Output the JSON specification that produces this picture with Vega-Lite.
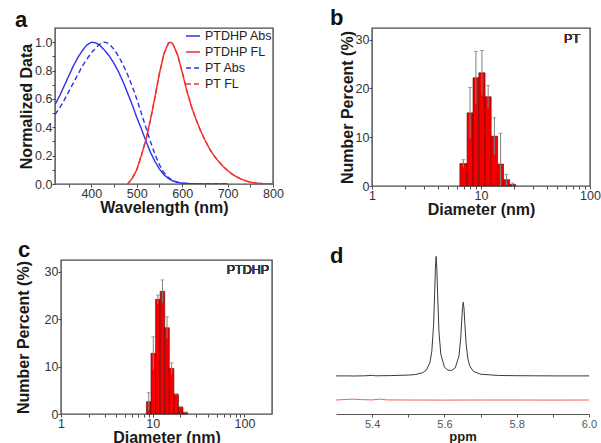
{
  "$schema": "https://vega.github.io/schema/vega-lite/v6.json",
  "background": "white",
  "padding": {"left": 7, "top": 6, "right": 5, "bottom": 5},
  "spacing": 19,
  "resolve": {"scale": {"color": "independent", "strokeDash": "independent"}, "legend": {"color": "independent", "strokeDash": "independent"}},
  "vconcat": [
    {
      "spacing": 44,
      "resolve": {"scale": {"color": "independent", "strokeDash": "independent"}, "legend": {"color": "independent", "strokeDash": "independent"}},
      "hconcat": [
        {
          "spacing": 0,
          "resolve": {"scale": {"color": "independent", "strokeDash": "independent"}, "legend": {"color": "independent", "strokeDash": "independent"}},
          "hconcat": [
            {"width": 1, "height": 1, "view": {"stroke": null}, "data": {"values": [{}]}, "mark": {"type": "point", "opacity": 0}, "encoding": {}},
            {
              "width": 218,
              "height": 156,
              "title": {"text": "a", "dx": -40, "offset": -4},
              "data": {"values": [
                {"s": "PTDHP Abs", "w": 320, "v": 0.56}, {"s": "PTDHP Abs", "w": 330, "v": 0.62}, {"s": "PTDHP Abs", "w": 340, "v": 0.69}, {"s": "PTDHP Abs", "w": 350, "v": 0.76}, {"s": "PTDHP Abs", "w": 360, "v": 0.83}, {"s": "PTDHP Abs", "w": 370, "v": 0.89}, {"s": "PTDHP Abs", "w": 380, "v": 0.94}, {"s": "PTDHP Abs", "w": 390, "v": 0.98}, {"s": "PTDHP Abs", "w": 400, "v": 1.0}, {"s": "PTDHP Abs", "w": 410, "v": 0.995}, {"s": "PTDHP Abs", "w": 420, "v": 0.975}, {"s": "PTDHP Abs", "w": 430, "v": 0.94}, {"s": "PTDHP Abs", "w": 440, "v": 0.9}, {"s": "PTDHP Abs", "w": 450, "v": 0.85}, {"s": "PTDHP Abs", "w": 460, "v": 0.79}, {"s": "PTDHP Abs", "w": 470, "v": 0.72}, {"s": "PTDHP Abs", "w": 480, "v": 0.64}, {"s": "PTDHP Abs", "w": 490, "v": 0.56}, {"s": "PTDHP Abs", "w": 500, "v": 0.47}, {"s": "PTDHP Abs", "w": 510, "v": 0.39}, {"s": "PTDHP Abs", "w": 520, "v": 0.305}, {"s": "PTDHP Abs", "w": 530, "v": 0.225}, {"s": "PTDHP Abs", "w": 540, "v": 0.16}, {"s": "PTDHP Abs", "w": 550, "v": 0.105}, {"s": "PTDHP Abs", "w": 560, "v": 0.065}, {"s": "PTDHP Abs", "w": 570, "v": 0.038}, {"s": "PTDHP Abs", "w": 580, "v": 0.021}, {"s": "PTDHP Abs", "w": 590, "v": 0.011}, {"s": "PTDHP Abs", "w": 600, "v": 0.006}, {"s": "PTDHP Abs", "w": 620, "v": 0.002}, {"s": "PTDHP Abs", "w": 650, "v": 0.0}, {"s": "PTDHP Abs", "w": 700, "v": 0.0},
                {"s": "PTDHP FL", "w": 480, "v": 0.0}, {"s": "PTDHP FL", "w": 490, "v": 0.04}, {"s": "PTDHP FL", "w": 500, "v": 0.1}, {"s": "PTDHP FL", "w": 510, "v": 0.2}, {"s": "PTDHP FL", "w": 520, "v": 0.31}, {"s": "PTDHP FL", "w": 530, "v": 0.45}, {"s": "PTDHP FL", "w": 540, "v": 0.61}, {"s": "PTDHP FL", "w": 550, "v": 0.78}, {"s": "PTDHP FL", "w": 560, "v": 0.92}, {"s": "PTDHP FL", "w": 570, "v": 0.995}, {"s": "PTDHP FL", "w": 575, "v": 1.0}, {"s": "PTDHP FL", "w": 580, "v": 0.985}, {"s": "PTDHP FL", "w": 590, "v": 0.91}, {"s": "PTDHP FL", "w": 600, "v": 0.79}, {"s": "PTDHP FL", "w": 610, "v": 0.66}, {"s": "PTDHP FL", "w": 620, "v": 0.55}, {"s": "PTDHP FL", "w": 630, "v": 0.46}, {"s": "PTDHP FL", "w": 640, "v": 0.38}, {"s": "PTDHP FL", "w": 650, "v": 0.31}, {"s": "PTDHP FL", "w": 660, "v": 0.25}, {"s": "PTDHP FL", "w": 670, "v": 0.2}, {"s": "PTDHP FL", "w": 680, "v": 0.16}, {"s": "PTDHP FL", "w": 690, "v": 0.125}, {"s": "PTDHP FL", "w": 700, "v": 0.095}, {"s": "PTDHP FL", "w": 710, "v": 0.07}, {"s": "PTDHP FL", "w": 720, "v": 0.05}, {"s": "PTDHP FL", "w": 730, "v": 0.035}, {"s": "PTDHP FL", "w": 740, "v": 0.022}, {"s": "PTDHP FL", "w": 750, "v": 0.013}, {"s": "PTDHP FL", "w": 760, "v": 0.007}, {"s": "PTDHP FL", "w": 780, "v": 0.002}, {"s": "PTDHP FL", "w": 800, "v": 0.0},
                {"s": "PT Abs", "w": 320, "v": 0.49}, {"s": "PT Abs", "w": 330, "v": 0.535}, {"s": "PT Abs", "w": 340, "v": 0.59}, {"s": "PT Abs", "w": 350, "v": 0.65}, {"s": "PT Abs", "w": 360, "v": 0.71}, {"s": "PT Abs", "w": 370, "v": 0.77}, {"s": "PT Abs", "w": 380, "v": 0.83}, {"s": "PT Abs", "w": 390, "v": 0.88}, {"s": "PT Abs", "w": 400, "v": 0.925}, {"s": "PT Abs", "w": 410, "v": 0.96}, {"s": "PT Abs", "w": 420, "v": 0.99}, {"s": "PT Abs", "w": 428, "v": 1.0}, {"s": "PT Abs", "w": 435, "v": 0.995}, {"s": "PT Abs", "w": 440, "v": 0.985}, {"s": "PT Abs", "w": 450, "v": 0.95}, {"s": "PT Abs", "w": 460, "v": 0.9}, {"s": "PT Abs", "w": 470, "v": 0.84}, {"s": "PT Abs", "w": 480, "v": 0.77}, {"s": "PT Abs", "w": 490, "v": 0.69}, {"s": "PT Abs", "w": 500, "v": 0.6}, {"s": "PT Abs", "w": 510, "v": 0.5}, {"s": "PT Abs", "w": 520, "v": 0.4}, {"s": "PT Abs", "w": 530, "v": 0.3}, {"s": "PT Abs", "w": 540, "v": 0.21}, {"s": "PT Abs", "w": 550, "v": 0.135}, {"s": "PT Abs", "w": 560, "v": 0.08}, {"s": "PT Abs", "w": 570, "v": 0.045}, {"s": "PT Abs", "w": 580, "v": 0.024}, {"s": "PT Abs", "w": 590, "v": 0.012}, {"s": "PT Abs", "w": 600, "v": 0.006}, {"s": "PT Abs", "w": 620, "v": 0.002}, {"s": "PT Abs", "w": 650, "v": 0.0}, {"s": "PT Abs", "w": 700, "v": 0.0},
                {"s": "PT FL", "w": 480, "v": 0.0}, {"s": "PT FL", "w": 490, "v": 0.04}, {"s": "PT FL", "w": 500, "v": 0.1}, {"s": "PT FL", "w": 510, "v": 0.2}, {"s": "PT FL", "w": 520, "v": 0.31}, {"s": "PT FL", "w": 530, "v": 0.45}, {"s": "PT FL", "w": 540, "v": 0.61}, {"s": "PT FL", "w": 550, "v": 0.78}, {"s": "PT FL", "w": 560, "v": 0.92}, {"s": "PT FL", "w": 570, "v": 0.995}, {"s": "PT FL", "w": 575, "v": 1.0}, {"s": "PT FL", "w": 580, "v": 0.985}, {"s": "PT FL", "w": 590, "v": 0.91}, {"s": "PT FL", "w": 600, "v": 0.79}, {"s": "PT FL", "w": 610, "v": 0.66}, {"s": "PT FL", "w": 620, "v": 0.55}, {"s": "PT FL", "w": 630, "v": 0.46}, {"s": "PT FL", "w": 640, "v": 0.38}, {"s": "PT FL", "w": 650, "v": 0.31}, {"s": "PT FL", "w": 660, "v": 0.25}, {"s": "PT FL", "w": 670, "v": 0.2}, {"s": "PT FL", "w": 680, "v": 0.16}, {"s": "PT FL", "w": 690, "v": 0.125}, {"s": "PT FL", "w": 700, "v": 0.095}, {"s": "PT FL", "w": 710, "v": 0.07}, {"s": "PT FL", "w": 720, "v": 0.05}, {"s": "PT FL", "w": 730, "v": 0.035}, {"s": "PT FL", "w": 740, "v": 0.022}, {"s": "PT FL", "w": 750, "v": 0.013}, {"s": "PT FL", "w": 760, "v": 0.007}, {"s": "PT FL", "w": 780, "v": 0.002}, {"s": "PT FL", "w": 800, "v": 0.0}
              ]},
              "mark": {"type": "line", "strokeWidth": 1.4, "clip": true},
              "encoding": {
                "x": {"field": "w", "type": "quantitative", "scale": {"domain": [320, 800], "nice": false, "zero": false},
                  "axis": {"title": "Wavelength (nm)", "values": [350, 400, 450, 500, 550, 600, 650, 700, 750, 800], "labelExpr": "datum.value % 100 == 0 ? datum.label : ''"}},
                "y": {"field": "v", "type": "quantitative", "scale": {"domain": [0, 1.1], "nice": false},
                  "axis": {"title": "Normalized Data", "format": ".1f", "values": [0, 0.1, 0.2, 0.3, 0.4, 0.5, 0.6, 0.7, 0.8, 0.9, 1.0], "labelExpr": "round(datum.value * 10) % 2 == 0 ? datum.label : ''"}},
                "color": {"field": "s", "type": "nominal", "scale": {"domain": ["PTDHP Abs", "PTDHP FL", "PT Abs", "PT FL"], "range": ["#2f2ff2", "#f22f2f", "#2f2ff2", "#f22f2f"]},
                  "legend": {"title": null, "orient": "top-right", "offset": 0, "padding": 0, "symbolType": "stroke", "symbolSize": 196, "symbolStrokeWidth": 1.5, "labelFontSize": 12.5, "labelColor": "#222", "rowPadding": 1, "labelOffset": 4}},
                "strokeDash": {"field": "s", "type": "nominal", "scale": {"domain": ["PTDHP Abs", "PTDHP FL", "PT Abs", "PT FL"], "range": [[1, 0], [1, 0], [5, 3], [5, 3]]},
                  "legend": {"title": null, "orient": "top-right", "offset": 0, "padding": 0, "symbolType": "stroke", "symbolSize": 196, "symbolStrokeWidth": 1.5, "labelFontSize": 12.5, "labelColor": "#222", "rowPadding": 1, "labelOffset": 4}}
              }
            }
          ]
        },
        {
          "width": 218,
          "height": 158,
          "title": {"text": "b", "dx": -42, "offset": -2},
          "data": {"values": [
            {"lo": 6.4, "hi": 7.45, "c": 6.9, "v": 4.6, "e1": 3.8, "e2": 5.4},
            {"lo": 7.45, "hi": 8.45, "c": 7.93, "v": 15.0, "e1": 9.8, "e2": 20.2},
            {"lo": 8.45, "hi": 9.55, "c": 8.98, "v": 22.2, "e1": 16.8, "e2": 27.6},
            {"lo": 9.55, "hi": 10.9, "c": 10.2, "v": 23.2, "e1": 18.6, "e2": 27.8},
            {"lo": 10.9, "hi": 12.4, "c": 11.63, "v": 18.3, "e1": 16.0, "e2": 20.6},
            {"lo": 12.4, "hi": 14.2, "c": 13.27, "v": 10.2, "e1": 6.4, "e2": 14.0},
            {"lo": 14.2, "hi": 16.1, "c": 15.12, "v": 4.5, "e1": 0, "e2": 10.8},
            {"lo": 16.1, "hi": 18.3, "c": 17.16, "v": 1.3, "e1": 0.2, "e2": 2.4},
            {"lo": 18.3, "hi": 20.8, "c": 19.51, "v": 0.3, "e1": 0, "e2": 0.6}
          ]},
          "layer": [
            {"mark": {"type": "bar", "color": "#f50000", "stroke": "#5a0000", "strokeWidth": 0.6},
              "encoding": {
                "x": {"field": "lo", "type": "quantitative", "scale": {"type": "log", "domain": [1, 100], "nice": false},
                  "axis": {"title": "Diameter (nm)", "values": [1, 2, 3, 4, 5, 6, 7, 8, 9, 10, 20, 30, 40, 50, 60, 70, 80, 90, 100], "labelExpr": "datum.value == 1 || datum.value == 10 || datum.value == 100 ? format(datum.value, 'd') : ''"}},
                "x2": {"field": "hi"},
                "y": {"field": "v", "type": "quantitative", "scale": {"domain": [0, 32.4], "nice": false},
                  "axis": {"title": "Number Percent (%)", "values": [0, 2.5, 5, 7.5, 10, 12.5, 15, 17.5, 20, 22.5, 25, 27.5, 30], "labelExpr": "datum.value % 5 == 0 ? datum.label : ''"}},
                "y2": {"datum": 0}
              }},
            {"mark": {"type": "rule", "color": "#808080", "strokeWidth": 1},
              "encoding": {"x": {"field": "c", "type": "quantitative"}, "y": {"field": "e1", "type": "quantitative"}, "y2": {"field": "e2"}}},
            {"mark": {"type": "tick", "orient": "horizontal", "color": "#808080", "size": 4, "thickness": 1},
              "encoding": {"x": {"field": "c", "type": "quantitative"}, "y": {"field": "e2", "type": "quantitative"}}},
            {"mark": {"type": "text", "text": "PT", "align": "right", "baseline": "middle", "fontSize": 12.5, "fontWeight": "normal", "color": "#333"},
              "encoding": {"x": {"datum": 81}, "y": {"datum": 30.1}}}
          ]
        }
      ]
    },
    {
      "spacing": 57,
      "resolve": {"scale": {"color": "independent", "strokeDash": "independent"}, "legend": {"color": "independent", "strokeDash": "independent"}},
      "hconcat": [
        {
          "spacing": 0,
          "hconcat": [
            {"width": 1, "height": 1, "view": {"stroke": null}, "data": {"values": [{}]}, "mark": {"type": "point", "opacity": 0}, "encoding": {}},
            {
              "width": 211,
              "height": 154,
              "title": {"text": "c", "dx": -43, "offset": -2},
              "data": {"values": [
                {"lo": 8.54, "hi": 9.58, "c": 9.05, "v": 2.6, "e1": 0.7, "e2": 4.5},
                {"lo": 9.58, "hi": 10.75, "c": 10.15, "v": 12.8, "e1": 9.3, "e2": 16.3},
                {"lo": 10.75, "hi": 12.06, "c": 11.39, "v": 24.2, "e1": 23.3, "e2": 25.1},
                {"lo": 12.06, "hi": 13.53, "c": 12.77, "v": 25.9, "e1": 23.5, "e2": 28.3},
                {"lo": 13.53, "hi": 15.18, "c": 14.33, "v": 18.2, "e1": 15.9, "e2": 20.5},
                {"lo": 15.18, "hi": 17.03, "c": 16.08, "v": 9.6, "e1": 8.4, "e2": 10.8},
                {"lo": 17.03, "hi": 19.1, "c": 18.04, "v": 4.1, "e1": 3.9, "e2": 4.3},
                {"lo": 19.1, "hi": 21.4, "c": 20.22, "v": 1.4, "e1": 1.2, "e2": 1.6},
                {"lo": 21.4, "hi": 24.0, "c": 22.66, "v": 0.3, "e1": 0.2, "e2": 0.4}
              ]},
              "layer": [
                {"mark": {"type": "bar", "color": "#f50000", "stroke": "#5a0000", "strokeWidth": 0.6},
                  "encoding": {
                    "x": {"field": "lo", "type": "quantitative", "scale": {"type": "log", "domain": [1, 200], "nice": false},
                      "axis": {"title": "Diameter (nm)", "values": [1, 2, 3, 4, 5, 6, 7, 8, 9, 10, 20, 30, 40, 50, 60, 70, 80, 90, 100], "labelExpr": "datum.value == 1 || datum.value == 10 || datum.value == 100 ? format(datum.value, 'd') : ''"}},
                    "x2": {"field": "hi"},
                    "y": {"field": "v", "type": "quantitative", "scale": {"domain": [0, 32.5], "nice": false},
                      "axis": {"title": "Number Percent (%)", "titlePadding": 13, "values": [0, 2.5, 5, 7.5, 10, 12.5, 15, 17.5, 20, 22.5, 25, 27.5, 30], "labelExpr": "datum.value % 5 == 0 ? datum.label : ''"}},
                    "y2": {"datum": 0}
                  }},
                {"mark": {"type": "rule", "color": "#808080", "strokeWidth": 1},
                  "encoding": {"x": {"field": "c", "type": "quantitative"}, "y": {"field": "e1", "type": "quantitative"}, "y2": {"field": "e2"}}},
                {"mark": {"type": "tick", "orient": "horizontal", "color": "#808080", "size": 4, "thickness": 1},
                  "encoding": {"x": {"field": "c", "type": "quantitative"}, "y": {"field": "e2", "type": "quantitative"}}},
                {"mark": {"type": "text", "text": "PTDHP", "align": "right", "baseline": "middle", "fontSize": 12.5, "fontWeight": "normal", "color": "#333"},
                  "encoding": {"x": {"datum": 186}, "y": {"datum": 30.3}}}
              ]
            }
          ]
        },
        {
          "width": 253,
          "height": 154,
          "view": {"stroke": null},
          "title": {"text": "d", "dx": -6, "offset": -14},
          "layer": [
            {
              "data": {"values": [
                {"s": "DHP", "ppm": 5.3, "i": 38.1}, {"s": "DHP", "ppm": 5.33, "i": 38.1}, {"s": "DHP", "ppm": 5.35, "i": 38.0}, {"s": "DHP", "ppm": 5.38, "i": 38.2}, {"s": "DHP", "ppm": 5.4, "i": 38.7}, {"s": "DHP", "ppm": 5.41, "i": 38.2}, {"s": "DHP", "ppm": 5.45, "i": 38.4}, {"s": "DHP", "ppm": 5.5, "i": 38.9}, {"s": "DHP", "ppm": 5.52, "i": 39.5}, {"s": "DHP", "ppm": 5.54, "i": 41.3}, {"s": "DHP", "ppm": 5.55, "i": 43.9}, {"s": "DHP", "ppm": 5.56, "i": 51.6}, {"s": "DHP", "ppm": 5.565, "i": 62.3}, {"s": "DHP", "ppm": 5.57, "i": 88.9}, {"s": "DHP", "ppm": 5.573, "i": 121.0}, {"s": "DHP", "ppm": 5.575, "i": 145.7}, {"s": "DHP", "ppm": 5.577, "i": 157.6}, {"s": "DHP", "ppm": 5.579, "i": 145.8}, {"s": "DHP", "ppm": 5.581, "i": 121.1}, {"s": "DHP", "ppm": 5.585, "i": 81.6}, {"s": "DHP", "ppm": 5.59, "i": 59.8}, {"s": "DHP", "ppm": 5.6, "i": 46.9}, {"s": "DHP", "ppm": 5.61, "i": 43.8}, {"s": "DHP", "ppm": 5.62, "i": 43.6}, {"s": "DHP", "ppm": 5.63, "i": 46.2}, {"s": "DHP", "ppm": 5.64, "i": 57.6}, {"s": "DHP", "ppm": 5.645, "i": 75.4}, {"s": "DHP", "ppm": 5.648, "i": 93.8}, {"s": "DHP", "ppm": 5.65, "i": 106.3}, {"s": "DHP", "ppm": 5.652, "i": 111.8}, {"s": "DHP", "ppm": 5.654, "i": 106.2}, {"s": "DHP", "ppm": 5.656, "i": 93.7}, {"s": "DHP", "ppm": 5.66, "i": 70.3}, {"s": "DHP", "ppm": 5.665, "i": 55.0}, {"s": "DHP", "ppm": 5.67, "i": 48.1}, {"s": "DHP", "ppm": 5.68, "i": 42.7}, {"s": "DHP", "ppm": 5.7, "i": 39.8}, {"s": "DHP", "ppm": 5.75, "i": 38.5}, {"s": "DHP", "ppm": 5.8, "i": 38.3}, {"s": "DHP", "ppm": 5.85, "i": 38.2}, {"s": "DHP", "ppm": 5.9, "i": 38.1}, {"s": "DHP", "ppm": 6.0, "i": 38.1},
                {"s": "DHP+H2O2", "ppm": 5.3, "i": 14.0}, {"s": "DHP+H2O2", "ppm": 5.33, "i": 14.6}, {"s": "DHP+H2O2", "ppm": 5.35, "i": 14.8}, {"s": "DHP+H2O2", "ppm": 5.37, "i": 14.4}, {"s": "DHP+H2O2", "ppm": 5.4, "i": 14.1}, {"s": "DHP+H2O2", "ppm": 5.42, "i": 14.8}, {"s": "DHP+H2O2", "ppm": 5.43, "i": 14.5}, {"s": "DHP+H2O2", "ppm": 5.44, "i": 14.1}, {"s": "DHP+H2O2", "ppm": 5.5, "i": 14.0}, {"s": "DHP+H2O2", "ppm": 5.6, "i": 13.9}, {"s": "DHP+H2O2", "ppm": 5.7, "i": 14.0}, {"s": "DHP+H2O2", "ppm": 5.8, "i": 14.0}, {"s": "DHP+H2O2", "ppm": 5.9, "i": 13.9}, {"s": "DHP+H2O2", "ppm": 6.0, "i": 14.0}
              ]},
              "mark": {"type": "line", "strokeWidth": 1, "clip": false},
              "encoding": {
                "x": {"field": "ppm", "type": "quantitative", "scale": {"domain": [5.3, 6.0], "nice": false, "zero": false},
                  "axis": {"title": "ppm", "domain": true, "domainColor": "#555", "tickSize": 3, "tickColor": "#555", "labelFontSize": 11, "labelColor": "#555", "labelPadding": 1, "titleFontSize": 13, "titlePadding": 1, "format": ".1f",
                    "values": [5.4, 5.5, 5.6, 5.7, 5.8, 5.9, 6.0],
                    "labelExpr": "datum.label == '5.5' || datum.label == '5.7' || datum.label == '5.9' ? '' : datum.label"}},
                "y": {"field": "i", "type": "quantitative", "scale": {"domain": [0, 154], "nice": false}, "axis": null},
                "color": {"field": "s", "type": "nominal", "scale": {"domain": ["DHP", "DHP+H2O2"], "range": ["#3a3a3a", "#ff5a5a"]}, "legend": null}
              }
            },
            {"mark": {"type": "text", "text": "DHP", "align": "center", "baseline": "middle", "fontSize": 12, "color": "#333"},
              "encoding": {"x": {"datum": 5.85}, "y": {"datum": 46}}},
            {"mark": {"type": "text", "text": "DHP+H₂O₂", "align": "center", "baseline": "middle", "fontSize": 12, "color": "#333"},
              "encoding": {"x": {"datum": 5.914}, "y": {"datum": 22}}}
          ]
        }
      ]
    }
  ],
  "config": {
    "font": "Liberation Sans",
    "view": {"stroke": "#4a4a4a", "strokeWidth": 1.4},
    "axis": {"domain": false, "grid": false, "ticks": true, "tickColor": "#4a4a4a", "tickSize": 3, "labelFontSize": 12.5, "labelColor": "#333", "labelPadding": 0, "titlePadding": 0, "titleFontSize": 16, "titleFontWeight": "bold", "titleColor": "#1a1a1a", "labelFlush": false, "labelOverlap": false},
    "title": {"fontSize": 22, "fontWeight": "bold", "anchor": "start", "frame": "group", "color": "#111"}
  }
}
